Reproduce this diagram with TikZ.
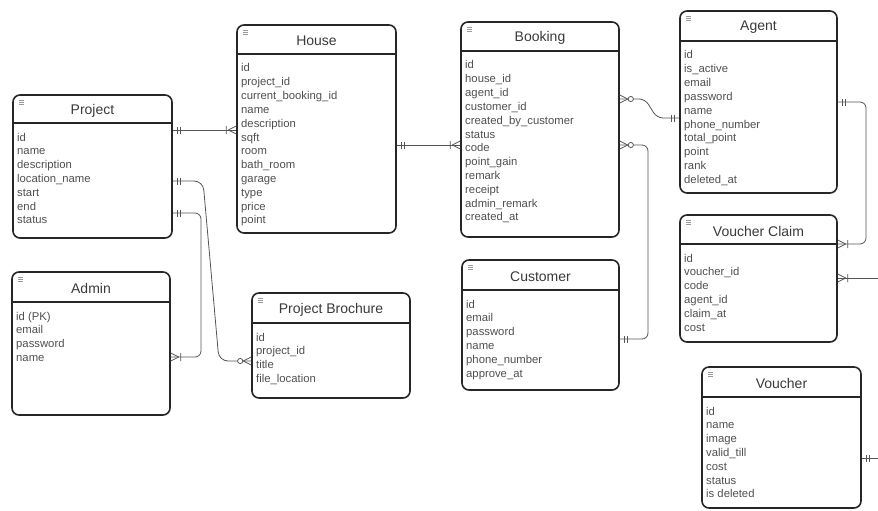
\documentclass[tikz,border=0pt]{standalone}
\usepackage{fontspec}
\setmainfont{Liberation Sans}
\usetikzlibrary{fit,calc}
\definecolor{bordc}{HTML}{262626}
\definecolor{txtc}{HTML}{505050}
\definecolor{titc}{HTML}{3A3A3A}
\definecolor{linec}{HTML}{555555}
\definecolor{iconc}{HTML}{9A9A9A}
\tikzset{
  entitybox/.style={draw=bordc, line width=1.6pt, rounded corners=7pt, inner sep=0pt},
  headline/.style={draw=bordc, line width=1.6pt},
  titletext/.style={inner sep=0pt, text=titc, font=\fontsize{14}{16}\selectfont},
  rowtext/.style={inner sep=0pt, anchor=base west, text=txtc, font=\fontsize{11.3}{13}\selectfont},
  iconline/.style={draw=iconc, line width=0.6pt},
  conn/.style={draw=linec, line width=0.8pt},
  pics/erone/.style={code={\draw[conn] (5,-3.5)--(5,3.5) (8,-3.5)--(8,3.5);}},
  pics/ermany/.style={code={\draw[conn] (0,-4)--(8,0) (0,4)--(8,0) (10,-4)--(10,4);}},
  pics/erzmany/.style={code={\draw[conn] (0,-4)--(8,0) (0,4)--(8,0);
      \draw[conn, fill=white] (11,0) circle (2.6);}},
}
\newcommand{\erentity}[8]{%
  \node[entitybox, fit={(#3,#4) (#5,#6)}] (#1) {};
  \draw[headline] (#3,#7) -- (#5,#7);
  \node[titletext] (#1-title) at ({(#3+#5)/2},{(#4+#7)/2+1.5}) {#2};
  \draw[iconline] ({#3+6},{#4+5}) -- ({#3+11},{#4+5})
                  ({#3+6},{#4+7}) -- ({#3+11},{#4+7})
                  ({#3+6},{#4+9}) -- ({#3+11},{#4+9});
  \foreach \r [count=\i] in {#8} {%
    \node[rowtext] (#1-r\i) at ({#3+4},{#7+18+(\i-1)*13.8}) {\r};
  }%
}
\begin{document}
\begin{tikzpicture}[x=1pt,y=-1pt]
\useasboundingbox (0,0) rectangle (878,511);
\clip (0,0) rectangle (878,511);
\fill[white] (0,0) rectangle (878,511);

\erentity{project}{Project}{13}{95}{172}{238}{123}{id,name,description,location\_name,start,end,status}
\erentity{admin}{Admin}{12}{272}{170}{415}{302}{id (PK),email,password,name}
\erentity{house}{House}{237}{25}{396}{233}{54}{id,project\_id,current\_booking\_id,name,description,sqft,room,bath\_room,garage,type,price,point}
\erentity{brochure}{Project Brochure}{252}{293}{410}{398}{323}{id,project\_id,title,file\_location}
\erentity{booking}{Booking}{461}{22}{619}{237}{51}{id,house\_id,agent\_id,customer\_id,created\_by\_customer,status,code,point\_gain,remark,receipt,admin\_remark,created\_at}
\erentity{customer}{Customer}{462}{260}{619}{390}{290}{id,email,password,name,phone\_number,approve\_at}
\erentity{agent}{Agent}{680}{11}{837}{193}{41}{id,is\_active,email,password,name,phone\_number,total\_point,point,rank,deleted\_at}
\erentity{vclaim}{Voucher Claim}{680}{215}{837}{342}{244}{id,voucher\_id,code,agent\_id,claim\_at,cost}
\erentity{voucher}{Voucher}{702}{367}{861}{508}{397}{id,name,image,valid\_till,cost,status,is deleted}

\coordinate (offa) at (880,278);
\coordinate (offb) at (880,458);

% Project -- House
\draw[conn] (project.east |- 0,130) -- (house.west |- 0,130);
\path (project.east |- 0,130) pic{erone};
\path (house.west |- 0,130) pic[rotate=180]{ermany};
% Project -- Brochure
\draw[conn, rounded corners=9pt] (project.east |- 0,181) -- (203,181) -- (219,361) -- (brochure.west |- 0,361);
\path (project.east |- 0,181) pic{erone};
\path (brochure.west |- 0,361) pic[rotate=180]{erzmany};
% Project -- Admin
\draw[conn, rounded corners=6pt] (project.east |- 0,213) -- (201,213) -- (201,357) -- (admin.east |- 0,357);
\path (project.east |- 0,213) pic{erone};
\path (admin.east |- 0,357) pic{ermany};
% House -- Booking
\draw[conn] (house.east |- 0,145) -- (booking.west |- 0,145);
\path (house.east |- 0,145) pic{erone};
\path (booking.west |- 0,145) pic[rotate=180]{ermany};
% Booking -- Agent
\draw[conn, rounded corners=6pt] (booking.east |- 0,99) -- (645,99) -- (657,118) -- (agent.west |- 0,118);
\path (booking.east |- 0,99) pic{erzmany};
\path (agent.west |- 0,118) pic[rotate=180]{erone};
% Booking -- Customer
\draw[conn, rounded corners=6pt] (booking.east |- 0,145) -- (648,145) -- (648,339) -- (customer.east |- 0,339);
\path (booking.east |- 0,145) pic{erzmany};
\path (customer.east |- 0,339) pic{erone};
% Agent -- Voucher Claim
\draw[conn, rounded corners=6pt] (agent.east |- 0,102) -- (866,102) -- (866,244) -- (vclaim.east |- 0,244);
\path (agent.east |- 0,102) pic{erone};
\path (vclaim.east |- 0,244) pic{ermany};
% Voucher Claim -- (off page)
\draw[conn] (vclaim.east |- 0,278) -- (offa);
\path (vclaim.east |- 0,278) pic{ermany};
% Voucher -- (off page)
\draw[conn] (voucher.east |- 0,458) -- (offb);
\path (voucher.east |- 0,458) pic{erone};
\end{tikzpicture}
\end{document}
